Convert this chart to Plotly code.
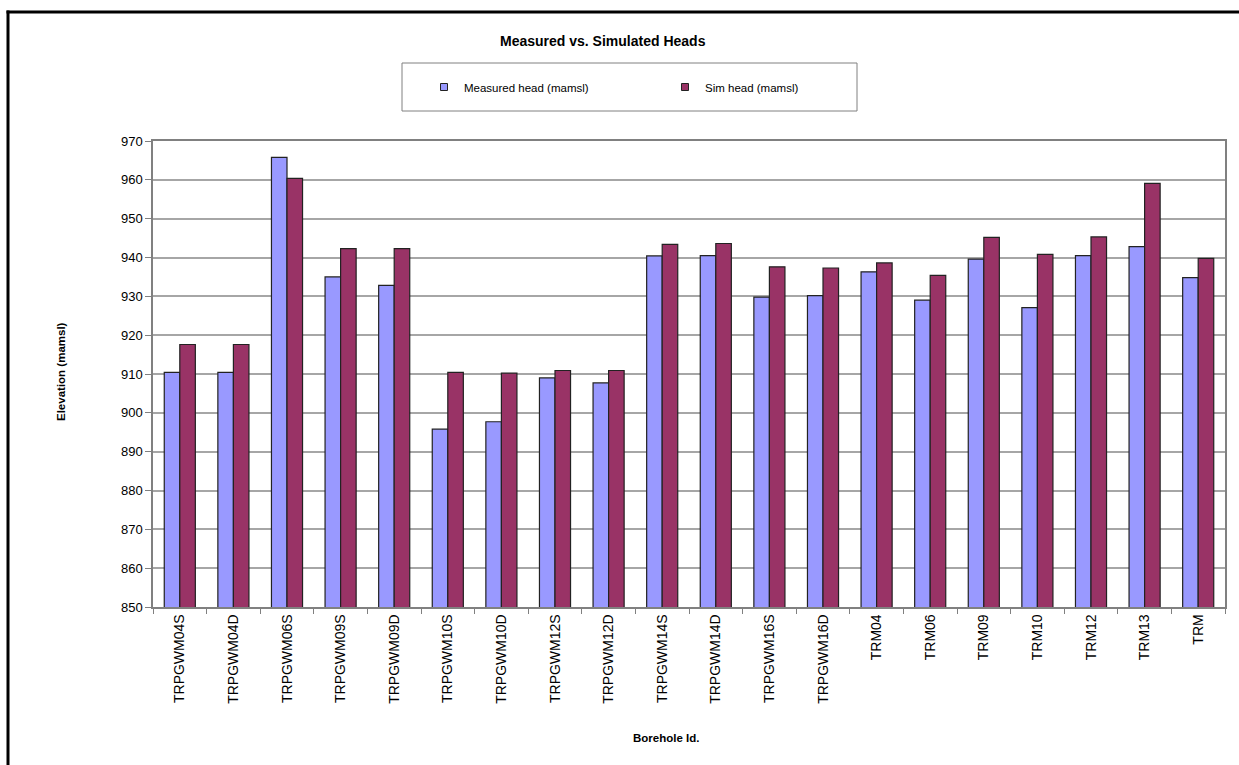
import plotly.graph_objects as go

boreholes = ["TRPGWM04S", "TRPGWM04D", "TRPGWM06S", "TRPGWM09S", "TRPGWM09D",
             "TRPGWM10S", "TRPGWM10D", "TRPGWM12S", "TRPGWM12D", "TRPGWM14S",
             "TRPGWM14D", "TRPGWM16S", "TRPGWM16D", "TRM04", "TRM06",
             "TRM09", "TRM10", "TRM12", "TRM13", "TRM"]
measured = [910.4, 910.4, 965.8, 935.0, 932.8,
            895.8, 897.7, 909.0, 907.7, 940.4,
            940.5, 929.8, 930.2, 936.3, 929.0,
            939.6, 927.1, 940.5, 942.8, 934.8]
simulated = [917.6, 917.6, 960.4, 942.3, 942.3,
             910.4, 910.2, 910.9, 910.9, 943.4,
             943.6, 937.6, 937.3, 938.6, 935.4,
             945.2, 940.8, 945.3, 959.1, 939.8]
y_ticks = [850, 860, 870, 880, 890, 900, 910, 920, 930, 940, 950, 960, 970]

FONT = "Liberation Sans, Arial, sans-serif"
C_MEAS = "#9999FF"
C_SIM = "#993366"

fig = go.Figure()
fig.add_trace(go.Bar(x=boreholes, y=measured, name="Measured head (mamsl)",
                     marker=dict(color=C_MEAS, line=dict(color="#222222", width=1.2)),
                     showlegend=False))
fig.add_trace(go.Bar(x=boreholes, y=simulated, name="Sim head (mamsl)",
                     marker=dict(color=C_SIM, line=dict(color="#222222", width=1.2)),
                     showlegend=False))
# legend-only entries with small square symbols
fig.add_trace(go.Scatter(x=[None], y=[None], mode="markers", name="Measured head (mamsl)",
                         marker=dict(symbol="square", size=7, color=C_MEAS,
                                     line=dict(color="#222222", width=1))))
fig.add_trace(go.Scatter(x=[None], y=[None], mode="markers", name="Sim head (mamsl)",
                         marker=dict(symbol="square", size=7, color=C_SIM,
                                     line=dict(color="#222222", width=1))))

L, R, T, B = 153, 14, 141, 158
W, H = 1239, 765
PW, PH = W - L - R, H - T - B

def px(x):
    return (x - L) / PW

def py(y):
    return (H - B - y) / PH

fig.update_layout(
    width=W, height=H,
    margin=dict(l=L, r=R, t=T, b=B),
    paper_bgcolor="white", plot_bgcolor="white",
    font=dict(family=FONT, color="#000000", size=12),
    barmode="group", bargap=0.42, bargroupgap=0.0,
    showlegend=True,
    legend=dict(orientation="h", x=px(424), xanchor="left", y=py(87), yanchor="middle",
                entrywidth=196, entrywidthmode="pixels", itemwidth=30,
                bgcolor="rgba(0,0,0,0)", borderwidth=0,
                font=dict(family=FONT, size=11.5, color="#000000")),
    xaxis=dict(type="category", showgrid=False, ticks="outside", tickson="boundaries",
               ticklen=5, tickcolor="#808080", tickangle=-90,
               tickfont=dict(family=FONT, size=14, color="#000000"),
               showline=True, linecolor="#808080", linewidth=1.5, mirror=True,
               automargin=False),
    yaxis=dict(range=[850, 970], tickvals=y_ticks, ticks="outside", ticklen=6,
               tickcolor="#808080", showgrid=True, gridcolor="#a6a6a6", gridwidth=1.5,
               tickfont=dict(family=FONT, size=13, color="#000000"),
               showline=True, linecolor="#808080", linewidth=1.5, mirror=True,
               zeroline=False, automargin=False),
    shapes=[
        # outer chart border (top and left edges visible)
        dict(type="line", xref="paper", yref="paper",
             x0=px(6.5), x1=px(1300), y0=py(12), y1=py(12),
             line=dict(color="#000000", width=3), layer="below"),
        dict(type="line", xref="paper", yref="paper",
             x0=px(8), x1=px(8), y0=py(10.5), y1=py(900),
             line=dict(color="#000000", width=3), layer="below"),
        # legend box
        dict(type="rect", xref="paper", yref="paper",
             x0=px(402), x1=px(857), y0=py(111), y1=py(63),
             line=dict(color="#808080", width=1), fillcolor="rgba(0,0,0,0)"),
    ],
    annotations=[
        dict(text="<b>Measured vs. Simulated Heads</b>", xref="paper", yref="paper",
             x=px(603), y=py(41), xanchor="center", yanchor="middle", showarrow=False,
             font=dict(family=FONT, size=14, color="#000000")),
        dict(text="<b>Borehole Id.</b>", xref="paper", yref="paper",
             x=px(666), y=py(738), xanchor="center", yanchor="middle", showarrow=False,
             font=dict(family=FONT, size=11.5, color="#000000")),
        dict(text="<b>Elevation (mamsl)</b>", xref="paper", yref="paper",
             x=px(61), y=py(372), xanchor="center", yanchor="middle", showarrow=False,
             textangle=-90, font=dict(family=FONT, size=11.5, color="#000000")),
    ],
)

fig.write_html("out.html")
